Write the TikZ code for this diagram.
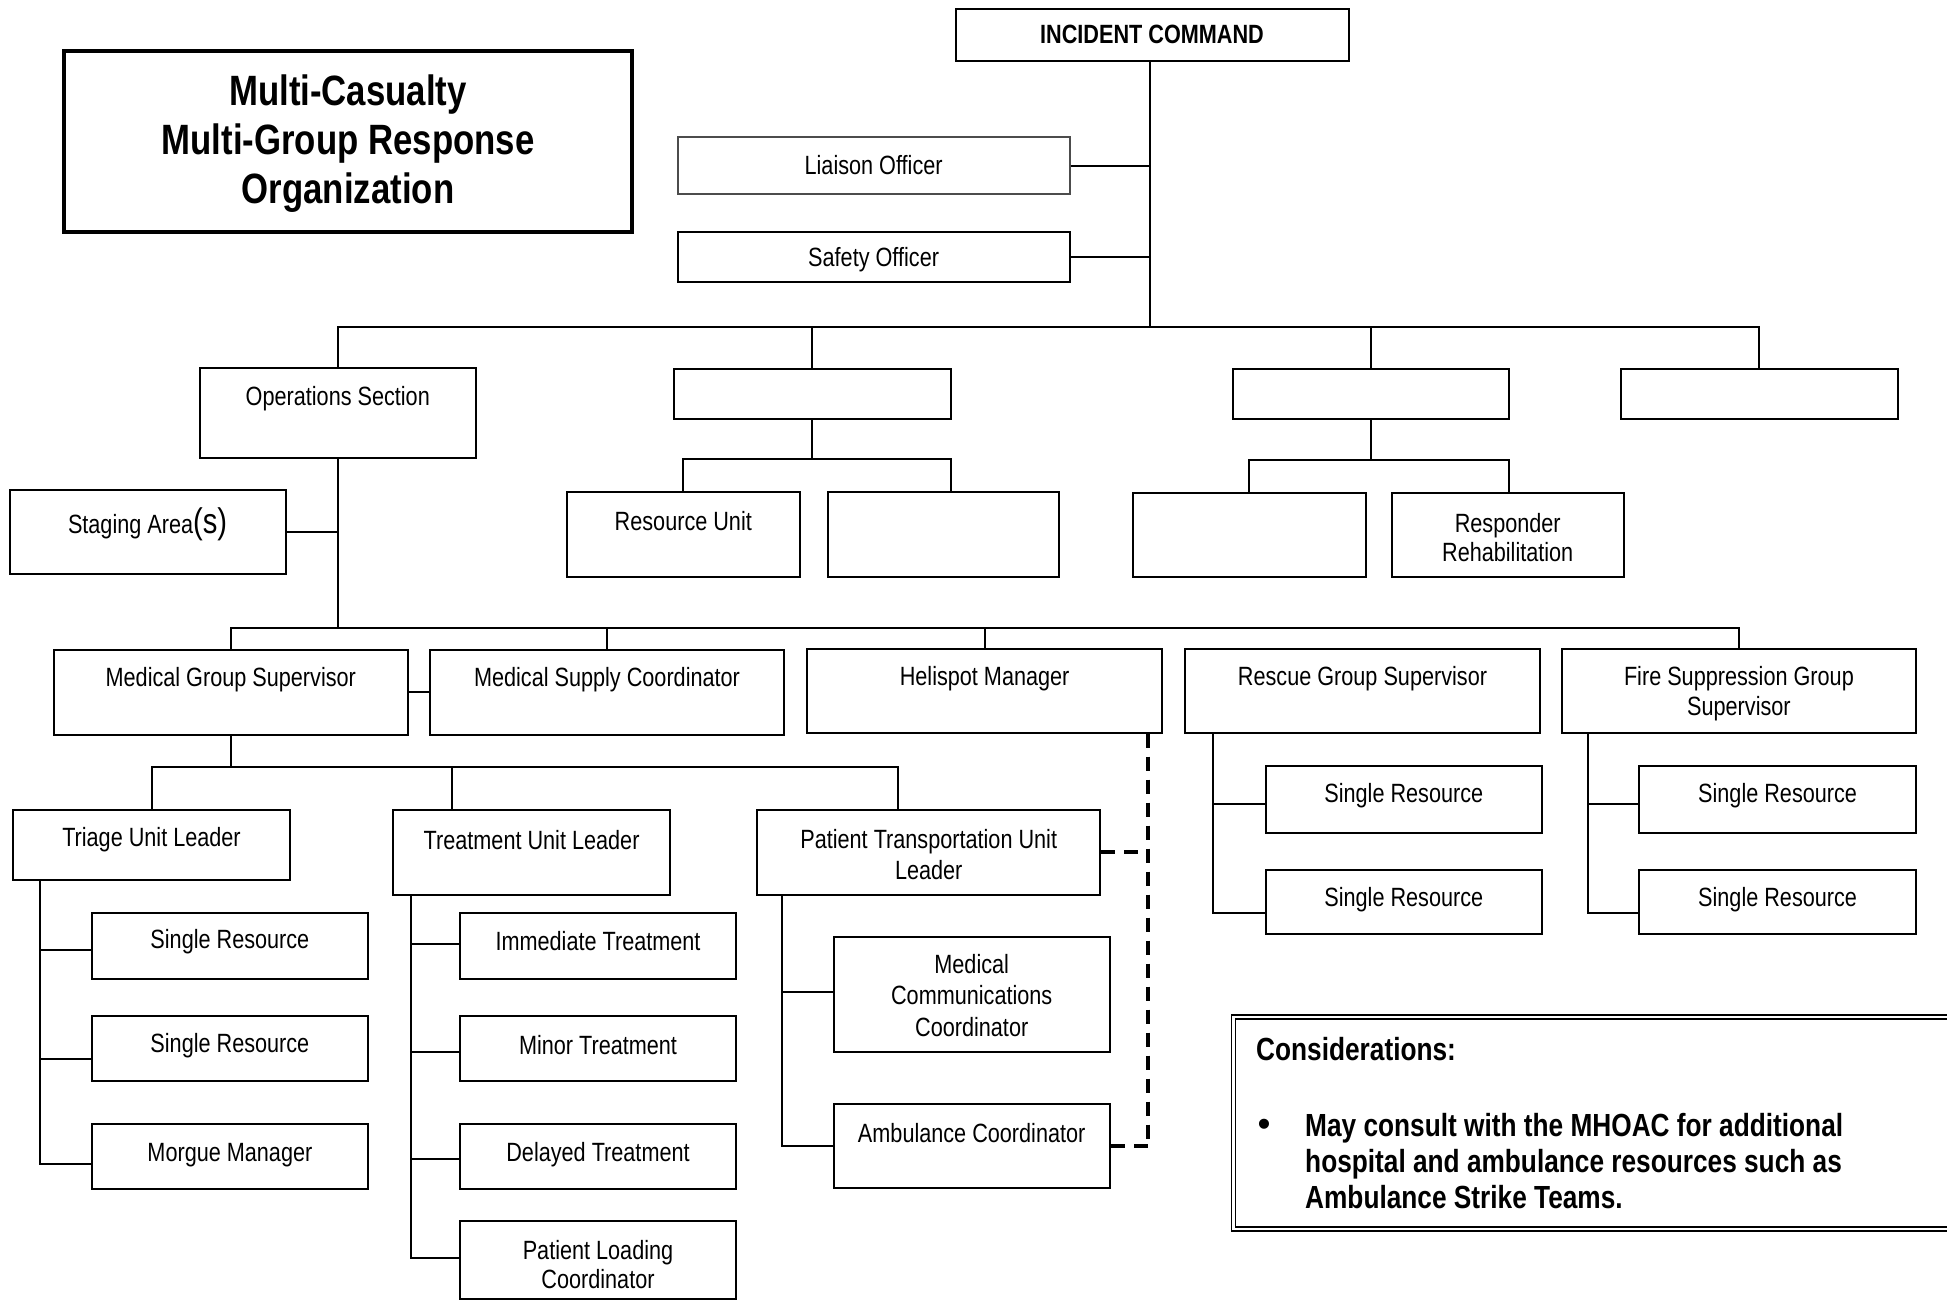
\documentclass[tikz,border=0pt]{standalone}
\usepackage{fontspec}
\setmainfont{Liberation Sans}[FakeStretch=0.82]
\newfontfamily\regfont{Liberation Sans}
\usetikzlibrary{fit}
\begin{document}
\begin{tikzpicture}[x=0.5pt,y=-0.5pt,
  box/.style={draw, line width=1pt, inner sep=0pt},
  lbl/.style={font=\fontsize{13.2}{14.8}\selectfont, inner sep=0pt, align=center, yshift=-1.2pt},
  rlbl/.style={font=\fontsize{13.2}{15.6}\selectfont, inner sep=0pt, align=center, yshift=-1.2pt},
  conn/.style={line width=1pt},
  dsh/.style={line width=2pt, dash pattern=on 7pt off 4.5pt},
  bold16/.style={font=\bfseries\fontsize{16}{17.9}\selectfont, inner sep=0pt}]
\useasboundingbox (0,0) rectangle (1947,1300);

% title
\node[box, line width=2.3pt, fit={(64,51) (632,232)}] (title) {};
\node[font=\bfseries\fontsize{21.2}{24.5}\selectfont, align=center, inner sep=0pt] (title-t) at (348,144) {Multi-Casualty\\Multi-Group Response\\Organization};

% incident command
\node[box, fit={(956,9.5) (1348.5,61)}] (ic) {};
\node[lbl, font=\bfseries\fontsize{13.2}{15}\selectfont] (ic-t) at (1152,32.5) {INCIDENT COMMAND};
\node[box, draw=black!70, fit={(677.7,137.3) (1069.6,194)}] (lia) {};
\node[lbl] (lia-t) at (873.6,162.5) {Liaison Officer};
\node[box, fit={(677.7,231.7) (1069.6,282)}] (saf) {};
\node[lbl] (saf-t) at (873.6,257) {Safety Officer};
\coordinate (top) at (1150,327);
\draw[conn] (ic.south -| top) -- (top);
\draw[conn] (lia.east) -- (lia.east -| top);
\draw[conn] (saf.east) -- (saf.east -| top);

% sections
\node[box, fit={(200,368.3) (475.6,458.3)}] (ops) {};
\node[lbl] (ops-t) at (337.8,396.7) {Operations Section};
\node[box, fit={(673.5,369) (950.5,419)}] (sec2) {};
\node[box, fit={(1233,369) (1509.4,419)}] (sec3) {};
\node[box, fit={(1621,369) (1897.8,419)}] (sec4) {};
\draw[conn] (ops.north) |- (sec4.north |- top) -- (sec4.north);
\draw[conn] (sec2.north) -- (sec2.north |- top);
\draw[conn] (sec3.north) -- (sec3.north |- top);

% staging
\node[box, fit={(9.8,490) (285.5,574.3)}] (stg) {};
\node[lbl] (stg-t) at (147.6,522) {Staging Area{\fontsize{17.8}{18}\selectfont(s)}};
\coordinate (gbus) at (337.8,628);
\draw[conn] (ops.south) -- (gbus);
\draw[conn] (stg.east) -- (stg.east -| ops.south);

% section 2 children
\node[box, fit={(566.8,492) (799.7,577)}] (ru) {};
\node[lbl] (ru-t) at (683.3,519) {Resource Unit};
\node[box, fit={(827.8,492) (1059.3,577)}] (sec2b) {};
\coordinate (j2) at (950.5,459);
\draw[conn] (sec2.south) -- (sec2.south |- j2);
\draw[conn] (ru.north) |- (j2) -- (j2 |- sec2b.north);

% section 3 children
\node[box, fit={(1133,492.7) (1365.8,576.7)}] (sec3a) {};
\node[box, fit={(1391.5,492.7) (1623.8,576.7)}] (rr) {};
\node[lbl] (rr-t) at (1507.7,535) {Responder\\Rehabilitation};
\coordinate (j3) at (1509.4,460);
\draw[conn] (sec3.south) -- (sec3.south |- j3);
\draw[conn] (sec3a.north) |- (j3) -- (j3 |- rr.north);

% group row
\node[box, fit={(53.6,650.4) (408,734.5)}] (mgs) {};
\node[lbl] (mgs-t) at (230.8,677.7) {Medical Group Supervisor};
\node[box, fit={(429.6,650.4) (784.2,734.5)}] (msc) {};
\node[lbl] (msc-t) at (607,677.7) {Medical Supply Coordinator};
\node[box, fit={(807.3,648.6) (1162,732.7)}] (heli) {};
\node[rlbl] (heli-t) at (984.6,676.4) {Helispot Manager};
\node[box, fit={(1184.9,648.6) (1540,732.7)}] (rgs) {};
\node[lbl] (rgs-t) at (1362.5,676.4) {Rescue Group Supervisor};
\node[box, fit={(1561.6,648.6) (1916.3,732.7)}] (fsg) {};
\node[lbl] (fsg-t) at (1738.9,691.1) {Fire Suppression Group\\Supervisor};
\draw[conn] (mgs.north) |- (fsg.north |- gbus) -- (fsg.north);
\draw[conn] (msc.north) -- (msc.north |- gbus);
\draw[conn] (heli.north) -- (heli.north |- gbus);
\draw[conn] (mgs.east) -- (msc.west);

% medical group units
\coordinate (mbus) at (230.6,766.6);
\draw[conn] (mgs.south) -- (mgs.south |- mbus);
\node[box, fit={(13.3,810) (289.8,880.2)}] (tri) {};
\node[lbl] (tri-t) at (151.5,836.8) {Triage Unit Leader};
\node[box, fit={(393.4,810) (669.9,894.5)}] (trt) {};
\node[lbl] (trt-t) at (531.6,837.7) {Treatment Unit Leader};
\node[box, fit={(757.3,810) (1100,894.5)}] (ptu) {};
\node[rlbl] (ptu-t) at (928.7,852) {Patient Transportation Unit\\Leader};
\coordinate (trtdrop) at (trt.north -| 451.5,0);
\coordinate (ptudrop) at (ptu.north -| 897.7,0);
\draw[conn] (tri.north) |- (ptudrop |- mbus) -- (ptudrop);
\draw[conn] (trtdrop |- mbus) -- (trtdrop);

% triage children
\coordinate (tsp) at (tri.south -| 40.3,0);
\node[box, fit={(91.8,912.7) (367.9,978.6)}] (sr1) {};
\node[lbl] (sr1-t) at (229.9,939) {Single Resource};
\node[box, fit={(91.8,1016.4) (367.9,1080.5)}] (sr2) {};
\node[lbl] (sr2-t) at (229.9,1043) {Single Resource};
\node[box, fit={(91.8,1124.3) (367.9,1188.5)}] (mor) {};
\node[lbl] (mor-t) at (229.9,1152.5) {Morgue Manager};
\draw[conn] (tsp) -- (tsp |- 0,1164.2) -- (mor.west |- 0,1164.2);
\draw[conn] (tsp |- 0,950.4) -- (sr1.west |- 0,950.4);
\draw[conn] (tsp |- 0,1058.9) -- (sr2.west |- 0,1058.9);

% treatment children
\coordinate (rsp) at (trt.south -| 411.2,0);
\node[box, fit={(459.7,912.7) (736.2,978.6)}] (imm) {};
\node[lbl] (imm-t) at (598,939) {Immediate Treatment};
\node[box, fit={(459.7,1016.4) (736.2,1080.5)}] (min) {};
\node[lbl] (min-t) at (598,1043) {Minor Treatment};
\node[box, fit={(459.7,1124.3) (736.2,1188.5)}] (del) {};
\node[lbl] (del-t) at (598,1152.5) {Delayed Treatment};
\node[box, fit={(459.7,1220.6) (736.2,1298.5)}] (plc) {};
\node[lbl] (plc-t) at (598,1262) {Patient Loading\\Coordinator};
\draw[conn] (rsp) -- (rsp |- 0,1258.3) -- (plc.west |- 0,1258.3);
\draw[conn] (rsp |- 0,944) -- (imm.west |- 0,944);
\draw[conn] (rsp |- 0,1052.4) -- (min.west |- 0,1052.4);
\draw[conn] (rsp |- 0,1158.6) -- (del.west |- 0,1158.6);

% transportation children
\coordinate (psp) at (ptu.south -| 781.7,0);
\node[box, fit={(833.7,936.6) (1110,1052.3)}] (mcc) {};
\node[rlbl] (mcc-t) at (971.7,993) {Medical\\Communications\\Coordinator};
\node[box, fit={(833.7,1104.4) (1110,1188)}] (ac) {};
\node[rlbl] (ac-t) at (971.7,1130.5) {Ambulance Coordinator};
\draw[conn] (psp) -- (psp |- ac.west) -- (ac.west);
\draw[conn] (psp |- 0,992) -- (mcc.west |- 0,992);

% dashed links
\coordinate (dx) at (heli.south -| 1148,0);
\draw[dsh] (dx) -- (dx |- ac.east);
\draw[dsh] (ptu.east) -- (ptu.east -| dx);
\draw[dsh] (ac.east) -- (ac.east -| dx);

% rescue children
\coordinate (rgsp) at (rgs.south -| 1213.3,0);
\node[box, fit={(1265.6,766.1) (1542,832.5)}] (r1) {};
\node[lbl] (r1-t) at (1403.8,793) {Single Resource};
\node[box, fit={(1265.6,870.2) (1542,934.4)}] (r2) {};
\node[lbl] (r2-t) at (1403.8,897) {Single Resource};
\draw[conn] (rgsp) -- (rgsp |- 0,912.7) -- (r2.west |- 0,912.7);
\draw[conn] (rgsp |- 0,804.3) -- (r1.west |- 0,804.3);

% fire children
\coordinate (fsp) at (fsg.south -| 1587.5,0);
\node[box, fit={(1638.9,766.1) (1916.3,832.5)}] (f1) {};
\node[lbl] (f1-t) at (1777.6,793) {Single Resource};
\node[box, fit={(1638.9,870.2) (1916.3,934.4)}] (f2) {};
\node[lbl] (f2-t) at (1777.6,897) {Single Resource};
\draw[conn] (fsp) -- (fsp |- 0,912.7) -- (f2.west |- 0,912.7);
\draw[conn] (fsp |- 0,804.3) -- (f1.west |- 0,804.3);

% considerations
\node[draw, double, line width=0.7pt, double distance=1.3pt, inner sep=0pt, fit={(1233.5,1017) (2000,1229)}] (cons) {};
\node[bold16, anchor=west] (cons-h) at (1255.8,1049.3) {Considerations:};
\node[font={\regfont\fontsize{18.5}{18.5}\selectfont}, inner sep=0pt] (cons-b) at (1264,1128) {•};
\node[bold16, anchor=west, align=left] (cons-t) at (1304.8,1161) {May consult with the MHOAC for additional\\hospital and ambulance resources such as\\Ambulance Strike Teams.};
\end{tikzpicture}
\end{document}
